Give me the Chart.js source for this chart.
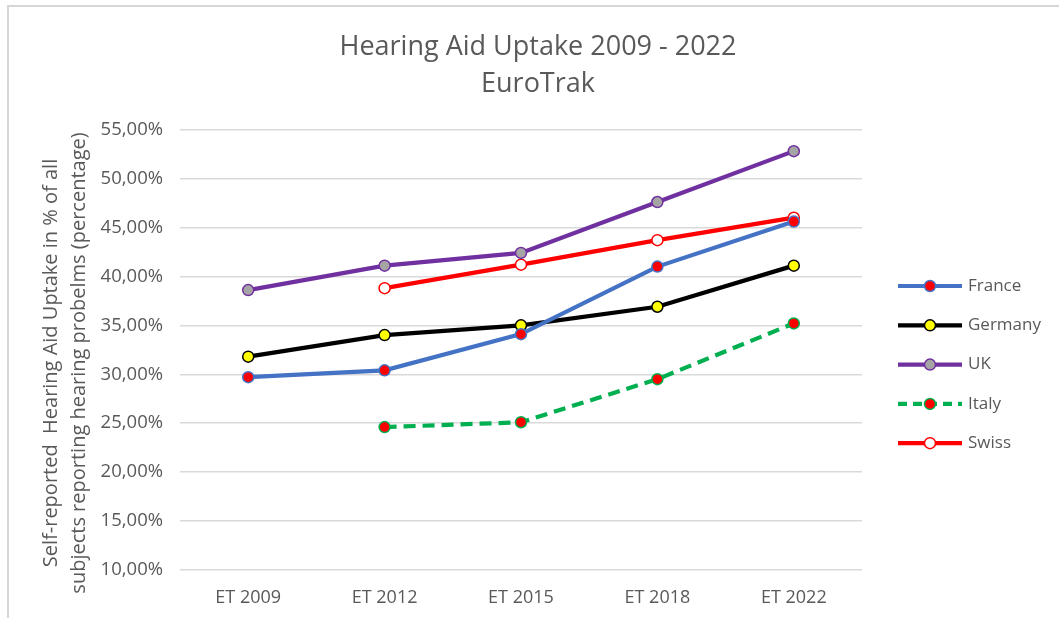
<!DOCTYPE html>
<html>
<head>
<meta charset="utf-8">
<script src="https://cdn.jsdelivr.net/npm/chart.js@4/dist/chart.umd.min.js"></script>
<style>
  html, body { margin: 0; padding: 0; background: #fff; }
  #wrap { position: relative; width: 1059px; height: 618px; overflow: hidden; }
  #frame { position: absolute; left: 7px; top: 5px; right: -10px; bottom: -10px; border-top: 2px solid #d6d6d6; border-left: 2px solid #d6d6d6; pointer-events: none; }
  canvas { position: absolute; left: 0; top: 0; }
</style>
</head>
<body>
<div id="wrap">
  <canvas id="c" width="1059" height="618"></canvas>
  <div id="frame"></div>
</div>
<script>
// ---- data ----
const categories = ['ET 2009', 'ET 2012', 'ET 2015', 'ET 2018', 'ET 2022'];
const france  = [29.7, 30.4, 34.1, 41.0, 45.6];
const germany = [31.8, 34.0, 35.0, 36.9, 41.1];
const uk      = [38.6, 41.1, 42.4, 47.6, 52.8];
const italy   = [null, 24.6, 25.1, 29.5, 35.2];
const swiss   = [null, 38.8, 41.2, 43.7, 46.0];
const seriesNames = ['France', 'Germany', 'UK', 'Italy', 'Swiss'];
const chartTitle = ['Hearing Aid Uptake 2009 - 2022', 'EuroTrak'];
const yAxisTitle = ['Self-reported  Hearing Aid Uptake in % of all', 'subjects reporting hearing probelms (percentage)'];
const yMin = 10, yMax = 55, yStep = 5;

const FONT = '"Open Sans", "Liberation Sans", sans-serif';
const GREY = '#595959';

function ds(label, data, line, fill, border, dash) {
  return {
    label, data,
    yAxisID: 'y',
    borderColor: line, backgroundColor: line,
    borderWidth: 4.2,
    borderDash: dash || [],
    pointRadius: 5.5, pointHoverRadius: 5.5,
    pointBackgroundColor: fill, pointBorderColor: border, pointBorderWidth: 1.5,
    tension: 0, spanGaps: false
  };
}

const datasets = [
  ds(seriesNames[0], france,  '#4472C4', '#FF0000', '#4472C4'),
  ds(seriesNames[1], germany, '#000000', '#FFFF00', '#000000'),
  ds(seriesNames[2], uk,      '#7030A0', '#A5A5A5', '#7030A0'),
  ds(seriesNames[3], italy,   '#00B050', '#FF0000', '#00B050', [12, 7]),
  ds(seriesNames[4], swiss,   '#FF0000', '#FFFFFF', '#FF0000')
];

const customLegend = {
  id: 'customLegend',
  afterDraw(chart, args, opts) {
    const ctx = chart.ctx;
    ctx.save();
    chart.data.datasets.forEach((d, i) => {
      const y = opts.y + i * opts.step;
      ctx.beginPath();
      ctx.strokeStyle = d.borderColor;
      ctx.lineWidth = d.borderWidth;
      ctx.setLineDash(d.borderDash.length ? [9, 6] : []);
      ctx.lineCap = 'butt';
      ctx.moveTo(opts.x, y); ctx.lineTo(opts.x + opts.len, y);
      ctx.stroke();
      ctx.setLineDash([]);
      ctx.beginPath();
      ctx.arc(opts.x + opts.len / 2, y, d.pointRadius, 0, Math.PI * 2);
      ctx.fillStyle = d.pointBackgroundColor;
      ctx.fill();
      ctx.lineWidth = d.pointBorderWidth;
      ctx.strokeStyle = d.pointBorderColor;
      ctx.stroke();
      ctx.fillStyle = GREY;
      ctx.font = '17px ' + FONT;
      ctx.textBaseline = 'middle';
      ctx.textAlign = 'left';
      ctx.fillText(d.label, opts.x + opts.len + 6, y);
    });
    ctx.restore();
  }
};

const yTitlePlugin = {
  id: 'yTitle',
  afterDraw(chart, args, opts) {
    const ctx = chart.ctx;
    ctx.save();
    ctx.translate(opts.x, opts.y);
    ctx.rotate(-Math.PI / 2);
    ctx.fillStyle = GREY;
    ctx.font = opts.size + 'px ' + FONT;
    ctx.textAlign = 'center';
    ctx.textBaseline = 'middle';
    opts.text.forEach((t, i) => ctx.fillText(t, 0, i * opts.lineHeight));
    ctx.restore();
  }
};

new Chart(document.getElementById('c'), {
  type: 'line',
  data: { labels: categories, datasets },
  plugins: [customLegend, yTitlePlugin],
  options: {
    responsive: false,
    animation: false,
    devicePixelRatio: 1,
    layout: { padding: { left: 17, right: 0, top: 0, bottom: 0 } },
    plugins: {
      legend: { display: false },
      tooltip: { enabled: false },
      title: {
        display: true,
        text: chartTitle,
        color: GREY,
        font: { family: FONT, size: 27, weight: 'normal', lineHeight: 1.4 },
        padding: { top: 28, bottom: 26 }
      },
      customLegend: { x: 898, y: 286, step: 39.3, len: 64 },
      yTitle: { x: 51, y: 363, lineHeight: 28, size: 20, text: yAxisTitle }
    },
    scales: {
      x: {
        offset: true,
        grid: { display: false, drawTicks: false },
        border: { display: false },
        ticks: { color: GREY, font: { family: FONT, size: 18 }, padding: 17 },
        afterFit(s) { s.height = 48; }
      },
      y: {
        position: 'left',
        min: yMin, max: yMax,
        grid: { color: '#d9d9d9', lineWidth: 1.5, drawTicks: false },
        border: { display: false },
        ticks: {
          stepSize: yStep,
          color: GREY,
          font: { family: FONT, size: 18.5 },
          padding: 17,
          callback: v => v.toFixed(2).replace('.', ',') + '%'
        },
        afterFit(s) { s.width = 163; }
      },
      legendSpace: {
        type: 'linear',
        position: 'right',
        display: true,
        grid: { display: false, drawTicks: false },
        border: { display: false },
        ticks: { display: false },
        afterFit(s) { s.width = 197; }
      }
    }
  }
});
</script>
</body>
</html>
